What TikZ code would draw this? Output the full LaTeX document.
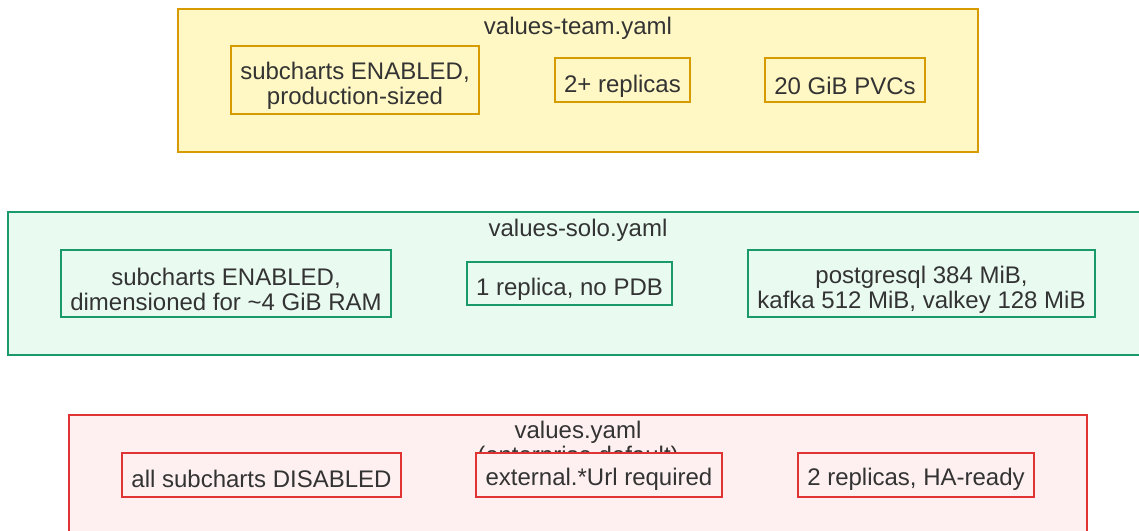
\documentclass[tikz,border=0pt]{standalone}
\usepackage{fontspec}
\setmainfont{Liberation Sans}
\definecolor{inkgray}{HTML}{333333}
\definecolor{teamfill}{HTML}{FFF8C4}
\definecolor{teamline}{HTML}{D79B00}
\definecolor{solofill}{HTML}{E9FBF1}
\definecolor{sololine}{HTML}{1A9A6A}
\definecolor{entfill}{HTML}{FEF0F0}
\definecolor{entline}{HTML}{E03333}
\tikzset{
  groupbox/.style={draw, rectangle, line width=1.1pt, inner sep=0pt},
  itembox/.style={draw, rectangle, line width=1.1pt, inner sep=0pt},
  itemtext/.style={inner sep=0pt, align=center, text=inkgray,
    font=\fontsize{24}{25}\selectfont, yshift=-6pt},
  grouptitle/.style={inner sep=0pt, align=center, text=inkgray,
    font=\fontsize{24}{25}\selectfont},
  team/.style={draw=teamline, fill=teamfill},
  solo/.style={draw=sololine, fill=solofill},
  ent/.style={draw=entline, fill=entfill},
}
% framed entry: name, colour style, width, height, centre, text
\newcommand{\entrybox}[6]{%
  \node[itembox, #2, minimum width=#3pt, minimum height=#4pt] (#1) at #5 {};
  \node[itemtext] (#1-text) at (#1.center) {#6};}
\begin{document}
\begin{tikzpicture}[x=1pt, y=-1pt]
\useasboundingbox (0,0) rectangle (1139,530);

% values-team.yaml
\node[groupbox, team, minimum width=800pt, minimum height=143pt] (teamgrp) at (578,80.5) {};
\node[grouptitle] (teamtitle) at (578,28.5) {values-team.yaml};
\entrybox{team1}{team}{248}{68}{(355,80)}{subcharts ENABLED,\\production-sized}
\entrybox{team2}{team}{135}{44}{(622.5,80)}{2+ replicas}
\entrybox{team3}{team}{160}{44}{(845,80)}{20 GiB PVCs}

% values-solo.yaml
\node[groupbox, solo, minimum width=1137pt, minimum height=143pt] (sologrp) at (576.5,283.5) {};
\node[grouptitle] (solotitle) at (578,230.5) {values-solo.yaml};
\entrybox{solo1}{solo}{330}{67}{(226,283.5)}{subcharts ENABLED,\\dimensioned for \textasciitilde4 GiB RAM}
\entrybox{solo2}{solo}{205}{43}{(569.5,283.5)}{1 replica, no PDB}
\entrybox{solo3}{solo}{347}{67}{(921.5,283.5)}{postgresql 384 MiB,\\kafka 512 MiB, valkey 128 MiB}

% values.yaml (enterprise default): its entries cover the title's second line
\node[groupbox, ent, minimum width=1018pt, minimum height=130pt] (entgrp) at (578,480) {};
\node[grouptitle] (enttitle) at (578,444.5) {values.yaml\\(enterprise default)};
\begin{scope}[itemtext/.append style={yshift=2pt}]
\entrybox{ent1}{ent}{279}{44}{(261.5,475)}{all subcharts DISABLED}
\entrybox{ent2}{ent}{246}{44}{(599,475)}{external.*Url required}
\entrybox{ent3}{ent}{236}{44}{(916,475)}{2 replicas, HA-ready}
\end{scope}
\end{tikzpicture}
\end{document}
